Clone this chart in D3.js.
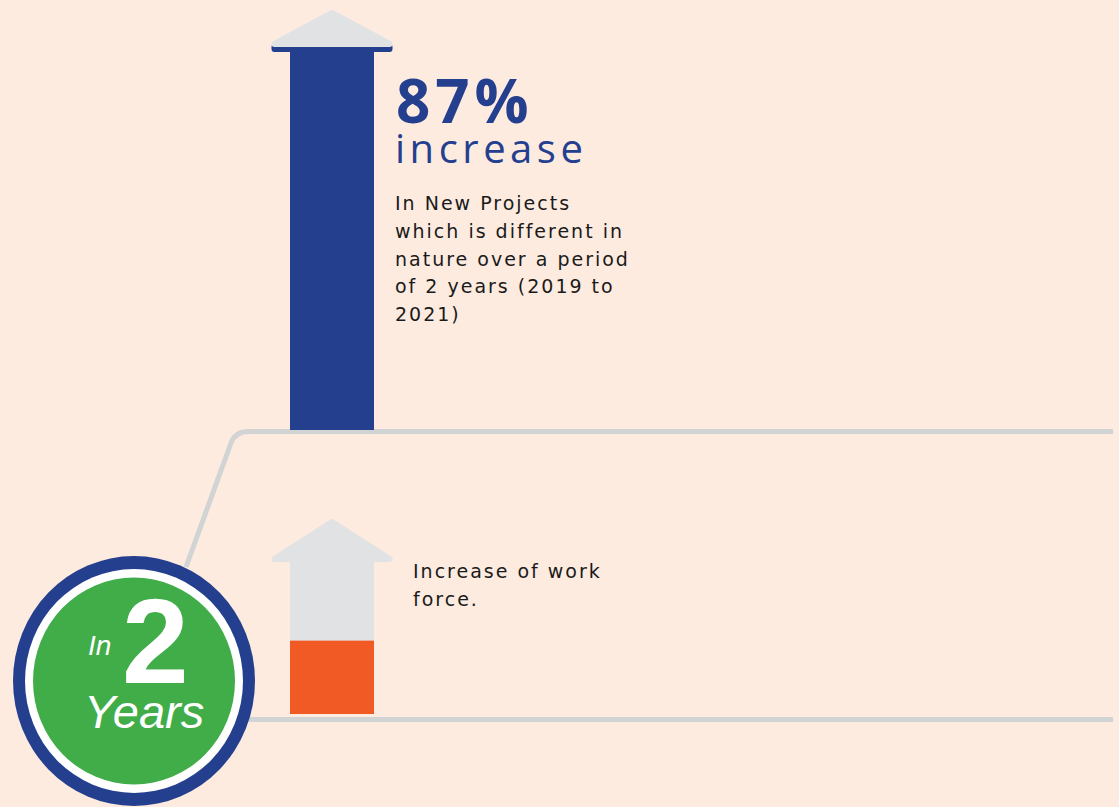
<!DOCTYPE html>
<html>
<head>
<meta charset="utf-8">
<script src="https://cdn.jsdelivr.net/npm/d3@7"></script>
<style>
  html, body { margin: 0; padding: 0; background: #fdebe0; }
  svg { display: block; }
</style>
</head>
<body>
<svg id="chart" width="1119" height="807"></svg>
<script>
// ---- data ----
const categories = ["New Projects", "Work Force"];
const values = [87, 42];            // % increase (work force value estimated from bar fill)
const headlineValue = ["87%", ""];
const headlineWord = ["increase", ""];
const descriptions = [
  ["In New Projects", "which is different in", "nature over a period", "of 2 years (2019 to", "2021)"],
  ["Increase of work", "force."]
];
const periodLabel = ["In", "2", "Years"];

// ---- styles ----
const C = {
  bg: "#fdebe0", blue: "#253f8f", grey: "#e1e2e4", line: "#d2d3d5",
  orange: "#f15a25", green: "#41ad49", white: "#ffffff", text: "#1a1a1a"
};

const svg = d3.select("#chart");
svg.append("rect").attr("width", 1119).attr("height", 807).attr("fill", C.bg);

// panel layout
const panels = [
  { baseline: 430, shaftTop: 47, apex: 10, fill: C.blue, lineY: 431.5, textX: 395, textY: 210 },
  { baseline: 714, shaftTop: 562, apex: 519, fill: C.orange, lineY: 719.5, textX: 413, textY: 578 }
];
const x = d3.scaleBand().domain([0]).range([290, 374]).padding(0);
const headHalf = 60.5, cx = 332;

// connector lines
svg.append("path")
  .attr("d", "M186,567 L231,443 Q235,431.5 249,431.5 L1113,431.5")
  .attr("fill", "none").attr("stroke", C.line).attr("stroke-width", 5);
svg.append("line")
  .attr("x1", 240).attr("x2", 1113).attr("y1", panels[1].lineY).attr("y2", panels[1].lineY)
  .attr("stroke", C.line).attr("stroke-width", 5);

categories.forEach((cat, i) => {
  const p = panels[i];
  const y = d3.scaleLinear().domain([0, 87]).range([p.baseline, p.shaftTop]);
  const g = svg.append("g").attr("class", "panel").attr("data-cat", cat);
  // grey shaft (arrow body)
  g.append("rect").attr("x", x(0)).attr("width", x.bandwidth())
    .attr("y", p.shaftTop - 2).attr("height", p.baseline - p.shaftTop + 2)
    .attr("fill", C.grey);
  // value bar
  g.append("rect").attr("x", x(0)).attr("width", x.bandwidth())
    .attr("y", y(values[i])).attr("height", y(0) - y(values[i]))
    .attr("fill", p.fill);
  if (values[i] >= 87) {
    g.append("rect").attr("x", cx - headHalf).attr("width", headHalf * 2)
      .attr("y", p.shaftTop - 3).attr("height", 8).attr("rx", 3).attr("fill", p.fill);
  }
  // arrow head
  const r = 3;
  g.append("path")
    .attr("d", `M${cx - headHalf + r},${p.shaftTop - r} L${cx},${p.apex + r} L${cx + headHalf - r},${p.shaftTop - r} Z`)
    .attr("fill", C.grey).attr("stroke", C.grey).attr("stroke-width", r * 2).attr("stroke-linejoin", "round");

  // texts
  if (headlineValue[i]) {
    g.append("text").attr("x", 396).attr("y", 123).text(headlineValue[i])
      .attr("fill", C.blue).attr("font-family", "Open Sans").attr("font-weight", 700)
      .attr("font-size", 60).attr("letter-spacing", 5);
    g.append("text").attr("x", 395).attr("y", 163).text(headlineWord[i])
      .attr("fill", C.blue).attr("font-family", "Open Sans")
      .attr("font-size", 40).attr("letter-spacing", 4.5);
  }
  g.append("g").selectAll("text").data(descriptions[i]).join("text")
    .attr("x", p.textX).attr("y", (d, k) => p.textY + k * 27.8)
    .attr("fill", C.text).attr("font-family", "DejaVu Sans")
    .attr("font-size", 19).attr("letter-spacing", 2)
    .text(d => d);
});

// period badge
const badge = svg.append("g").attr("transform", "translate(134,681)");
badge.append("ellipse").attr("rx", 121).attr("ry", 125).attr("fill", C.blue);
badge.append("ellipse").attr("rx", 109).attr("ry", 112).attr("fill", C.white);
badge.append("ellipse").attr("rx", 101).attr("ry", 103.5).attr("fill", C.green);
badge.append("text").attr("x", 88 - 134).attr("y", 655 - 681).text(periodLabel[0])
  .attr("fill", C.white).attr("font-family", "Liberation Sans").attr("font-style", "italic")
  .attr("font-size", 28);
badge.append("text").attr("x", 122 - 134).attr("y", 683 - 681).text(periodLabel[1])
  .attr("fill", C.white).attr("font-family", "Liberation Sans").attr("font-weight", 700)
  .attr("font-size", 120);
badge.append("text").attr("x", 84 - 134).attr("y", 728 - 681).text(periodLabel[2])
  .attr("fill", C.white).attr("font-family", "Liberation Sans").attr("font-style", "italic")
  .attr("font-size", 47);
</script>
</body>
</html>
